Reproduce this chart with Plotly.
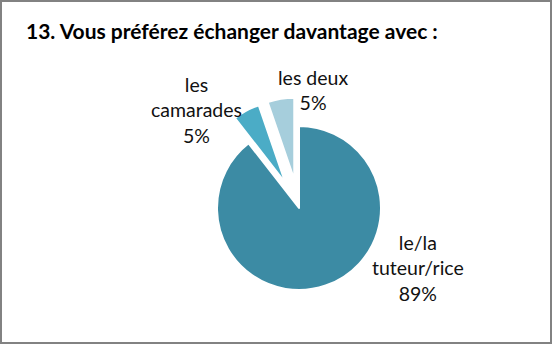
import plotly.graph_objects as go

title_text = "13. Vous préférez échanger davantage avec :"
categories = ["le/la tuteur/rice", "les camarades", "les deux"]
label_lines = [["le/la", "tuteur/rice"], ["les", "camarades"], ["les deux"]]
counts = [17, 1, 1]
pulls = [0, 0.35, 0.35]
colors = ["#3C8BA4", "#4BACC6", "#A6CEDC"]

W, H = 552, 344
total = sum(counts)
pcts = [round(100 * c / total) for c in counts]

cx, cy, r = 299, 208, 82
half = r * (1 + max(pulls))

fig = go.Figure(go.Pie(
    labels=categories,
    values=counts,
    sort=False,
    direction="clockwise",
    rotation=0,
    pull=pulls,
    textinfo="none",
    hoverinfo="label+percent",
    marker=dict(colors=colors, line=dict(color="white", width=2)),
    domain=dict(x=[(cx - half) / W, (cx + half) / W],
                y=[1 - (cy + half) / H, 1 - (cy - half) / H]),
    showlegend=False,
))

label_pos = [(418, 268), (196, 110), (313, 90)]
annotations = []
for lines, p, (lx, ly) in zip(label_lines, pcts, label_pos):
    txt = "<br>".join(lines + [f"{p}%"])
    annotations.append(dict(
        text=txt, x=lx / W, y=1 - ly / H, xref="paper", yref="paper",
        xanchor="center", yanchor="middle", showarrow=False, align="center",
        font=dict(family="Lato", size=19.5, color="#111111"),
    ))

annotations.append(dict(
    text=f"<b>{title_text}</b>", x=24 / W, y=1 - 31 / H, xref="paper", yref="paper",
    xanchor="left", yanchor="middle", showarrow=False,
    font=dict(family="Lato", size=21, color="#000000"),
))

fig.update_layout(
    width=W, height=H,
    margin=dict(l=0, r=0, t=0, b=0),
    paper_bgcolor="white",
    annotations=annotations,
    shapes=[dict(type="rect", xref="paper", yref="paper", x0=0, x1=1, y0=0, y1=1,
                 line=dict(color="#828282", width=4), fillcolor="rgba(0,0,0,0)")],
)

fig.write_html("out.html")
